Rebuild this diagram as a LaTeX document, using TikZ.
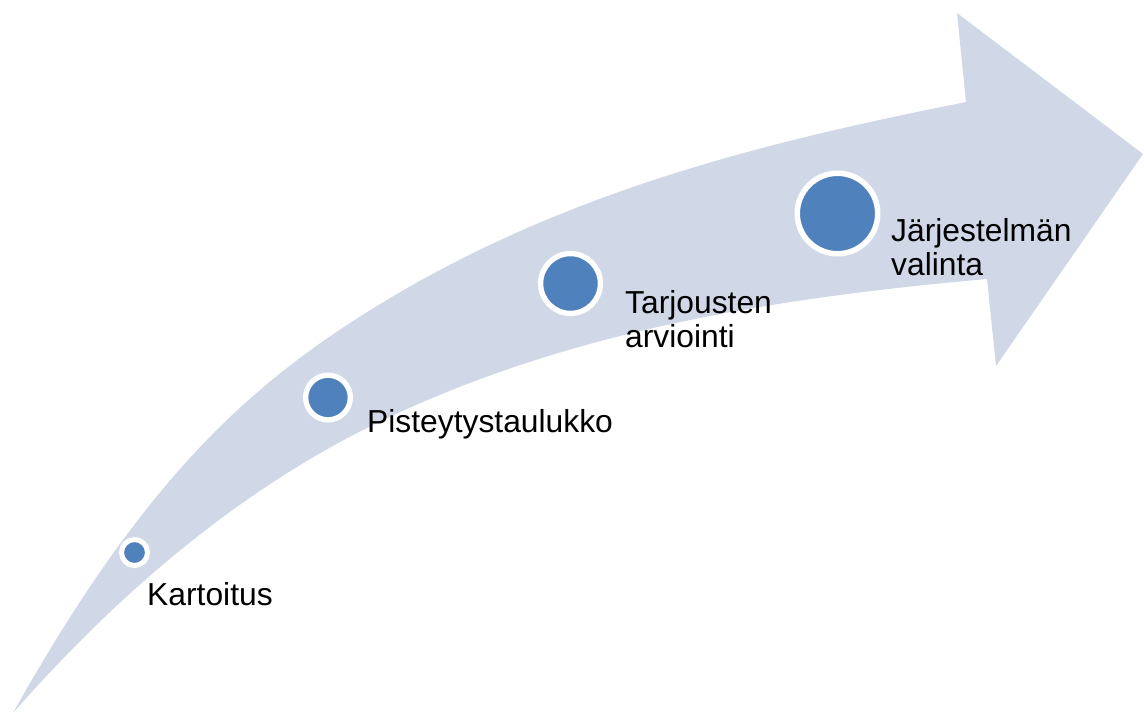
\documentclass[tikz,border=0pt]{standalone}
\usepackage{fontspec}
\setmainfont{Liberation Sans}
\definecolor{band}{HTML}{D0D8E8}
\definecolor{dotblue}{HTML}{4F81BD}
\begin{document}
\begin{tikzpicture}[x=1pt,y=-1pt,
  dot/.style={circle,draw=white,fill=dotblue,line width=5.3pt,inner sep=0pt},
  lbl/.style={anchor=base west,inner sep=0pt,align=left,font=\fontsize{31.8}{34}\selectfont,text=black}]
\useasboundingbox (0,0) rectangle (1144,715);
\fill[band] (13,713) .. controls (135,495) and (235,398) .. (350,323)
  .. controls (550,192.6) and (766,142) .. (966,102)
  -- (957,13) -- (1143,154) -- (996,366) -- (987,279)
  .. controls (787,297) and (567,328) .. (367,428)
  .. controls (247,488) and (128,582) .. (13,713) -- cycle;
\node[dot,minimum size=26pt,line width=5pt] (d1) at (134.5,552.5) {};
\node[dot,minimum size=44.7pt] (d2) at (328,397.5) {};
\node[dot,minimum size=59.8pt] (d3) at (570.5,283.5) {};
\node[dot,minimum size=80.5pt,line width=5.5pt] (d4) at (837.5,213.5) {};
\node[lbl] (t1) at (147,605) {Kartoitus};
\node[lbl] (t2) at (367,432) {Pisteytystaulukko};
\node[lbl] (t3) at (625,347) {Tarjousten\\arviointi};
\node[lbl] (t4) at (891,275) {Järjestelmän\\valinta};
\end{tikzpicture}
\end{document}
